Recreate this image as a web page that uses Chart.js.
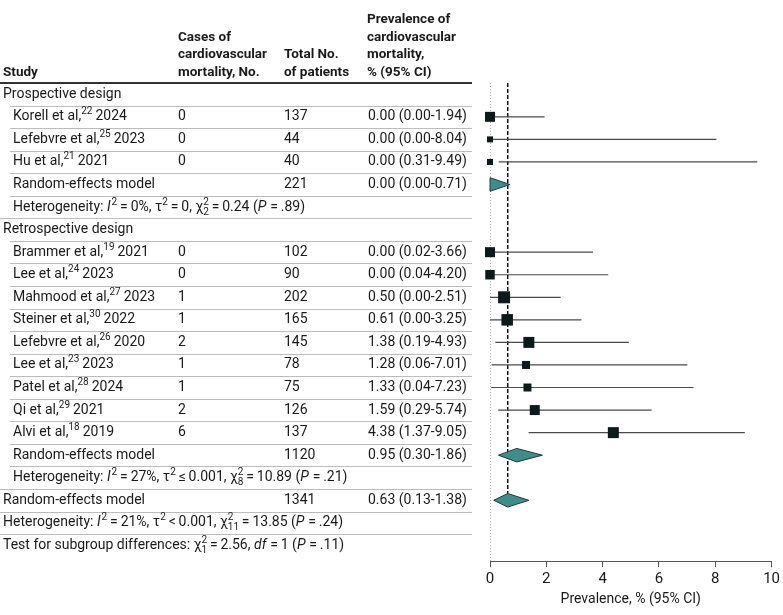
<!DOCTYPE html>
<html lang="en">
<head>
    <meta charset="UTF-8">
    <title>Cardiovascular mortality forest plot</title>
    <style>
        body { margin: 0; background: #FFFFFF; }
        #chart-container { width: 783px; height: 615px; position: relative; }
    </style>
    <script src="https://cdn.jsdelivr.net/npm/chart.js"></script>
</head>
<body>
    <div id="chart-container">
        <canvas id="forestChart"></canvas>
    </div>

    <script>
        // Prospective design studies
        const prosStudy = ["Korell et al,", "Lefebvre et al,", "Hu et al,"];
        const prosRef = ["22", "25", "21"];
        const prosYear = ["2024", "2023", "2021"];
        const prosCases = [0, 0, 0];
        const prosTotal = [137, 44, 40];
        const prosEst = [0.00, 0.00, 0.00];
        const prosLow = [0.00, 0.00, 0.31];
        const prosHigh = [1.94, 8.04, 9.49];

        // Retrospective design studies
        const retroStudy = ["Brammer et al,", "Lee et al,", "Mahmood et al,", "Steiner et al,", "Lefebvre et al,",
                            "Lee et al,", "Patel et al,", "Qi et al,", "Alvi et al,"];
        const retroRef = ["19", "24", "27", "30", "26", "23", "28", "29", "18"];
        const retroYear = ["2021", "2023", "2023", "2022", "2020", "2023", "2024", "2021", "2019"];
        const retroCases = [0, 0, 1, 1, 2, 1, 1, 2, 6];
        const retroTotal = [102, 90, 202, 165, 145, 78, 75, 126, 137];
        const retroEst = [0.00, 0.00, 0.50, 0.61, 1.38, 1.28, 1.33, 1.59, 4.38];
        const retroLow = [0.02, 0.04, 0.00, 0.00, 0.19, 0.06, 0.04, 0.29, 1.37];
        const retroHigh = [3.66, 4.20, 2.51, 3.25, 4.93, 7.01, 7.23, 5.74, 9.05];

        // Pooled estimates: prospective, retrospective, overall
        const pooledTotal = [221, 1120, 1341];
        const pooledEst = [0.00, 0.95, 0.63];
        const pooledLow = [0.00, 0.30, 0.13];
        const pooledHigh = [0.71, 1.86, 1.38];

        const xTicks = [0, 2, 4, 6, 8, 10];

        // Square side in px (study weight)
        const prosBox = [10, 6, 6];
        const retroBox = [10, 9.5, 12, 11.5, 11, 8, 8, 10, 11];

        const FONT = "Roboto, 'Liberation Sans', sans-serif";
        const TEXT = "#1a1a1a";
        const TABLE_RIGHT = 472;

        // Row layout (row index used on the y scale)
        const prosRows = [0, 1, 2];
        const retroRows = [6, 7, 8, 9, 10, 11, 12, 13, 14];
        const pooledRows = [3, 15, 17];
        const overall = pooledEst[2];

        const fmt = (e, l, h) => `${e.toFixed(2)} (${l.toFixed(2)}-${h.toFixed(2)})`;

        // Rich text bits for the heterogeneity lines
        const hetPros = ["Heterogeneity: ", { i: "I" }, { sup: "2" }, "\u2009=\u20090%, \u03c4", { sup: "2" },
                         "\u2009=\u20090, \u03c7", { sup: "2", sub: "2" }, "\u2009=\u20090.24 (", { i: "P" }, "\u2009=\u2009.89)"];
        const hetRetro = ["Heterogeneity: ", { i: "I" }, { sup: "2" }, "\u2009=\u200927%, \u03c4", { sup: "2" },
                          "\u2009\u2264\u20090.001, \u03c7", { sup: "2", sub: "8" }, "\u2009=\u200910.89 (", { i: "P" }, "\u2009=\u2009.21)"];
        const hetAll = ["Heterogeneity: ", { i: "I" }, { sup: "2" }, "\u2009=\u200921%, \u03c4", { sup: "2" },
                        "\u2009<\u20090.001, \u03c7", { sup: "2", sub: "11" }, "\u2009=\u200913.85 (", { i: "P" }, "\u2009=\u2009.24)"];
        const subgroupTest = ["Test for subgroup differences: \u03c7", { sup: "2", sub: "1" }, "\u2009=\u20092.56, ",
                              { i: "df" }, "\u2009=\u20091 (", { i: "P" }, "\u2009=\u2009.11)"];

        function drawRich(ctx, x, y, parts) {
            for (const p of parts) {
                if (typeof p === "string") {
                    ctx.font = `14px ${FONT}`;
                    ctx.fillText(p, x, y);
                    x += ctx.measureText(p).width;
                } else if (p.i) {
                    ctx.font = `italic 14px ${FONT}`;
                    ctx.fillText(p.i, x, y);
                    x += ctx.measureText(p.i).width + 1;
                } else {
                    ctx.font = `10px ${FONT}`;
                    let w = ctx.measureText(p.sup).width;
                    ctx.fillText(p.sup, x, y - 5);
                    if (p.sub) {
                        ctx.fillText(p.sub, x, y + 5);
                        w = Math.max(w, ctx.measureText(p.sub).width);
                    }
                    x += w;
                }
            }
        }

        function drawStudy(ctx, x, y, name, ref, year) {
            ctx.font = `14px ${FONT}`;
            ctx.fillText(name, x, y);
            x += ctx.measureText(name).width;
            ctx.font = `10px ${FONT}`;
            ctx.fillText(ref, x, y - 5);
            x += ctx.measureText(ref).width + 3;
            ctx.font = `14px ${FONT}`;
            ctx.fillText(year, x, y);
        }

        // Draws the table to the left of the plot, rows placed with the chart's y scale
        const tablePlugin = {
            id: "forestTable",
            afterDraw(chart) {
                const ctx = chart.ctx;
                const py = r => chart.scales.y.getPixelForValue(r);
                ctx.save();
                ctx.fillStyle = TEXT;
                ctx.textBaseline = "middle";
                ctx.textAlign = "left";

                // Column headers
                ctx.font = `bold 13.5px ${FONT}`;
                ctx.fillText("Study", 3, 72.5);
                ["Cases of", "cardiovascular", "mortality, No."].forEach((t, k) => ctx.fillText(t, 178, 37.5 + k * 17.5));
                ["Total No.", "of patients"].forEach((t, k) => ctx.fillText(t, 284, 55 + k * 17.5));
                ["Prevalence of", "cardiovascular", "mortality,", "% (95% CI)"].forEach((t, k) => ctx.fillText(t, 367, 20 + k * 17.5));

                // Rules
                ctx.strokeStyle = "#333";
                ctx.lineWidth = 2;
                ctx.beginPath();
                ctx.moveTo(0, chart.chartArea.top);
                ctx.lineTo(TABLE_RIGHT, chart.chartArea.top);
                ctx.stroke();

                const seps = [[-0.5, 10], [0.5, 10], [1.5, 10], [2.5, 10], [3.5, 10], [4.5, 0], [5.5, 10],
                              [6.5, 10], [7.5, 10], [8.5, 10], [9.5, 10], [10.5, 10], [11.5, 10], [12.5, 10],
                              [13.5, 10], [14.5, 10], [15.5, 10], [16.5, 0], [17.5, 0], [18.5, 0]];
                ctx.strokeStyle = "#bcbcbc";
                ctx.lineWidth = 1;
                for (const [r, x0] of seps) {
                    const yy = Math.round(py(r)) + 0.5;
                    ctx.beginPath();
                    ctx.moveTo(x0, yy);
                    ctx.lineTo(TABLE_RIGHT, yy);
                    ctx.stroke();
                }

                // Group headers
                ctx.font = `14px ${FONT}`;
                ctx.fillText("Prospective design", 3, py(-1));
                ctx.fillText("Retrospective design", 3, py(5));

                // Study rows
                prosStudy.forEach((s, k) => {
                    const y = py(prosRows[k]);
                    drawStudy(ctx, 13, y, s, prosRef[k], prosYear[k]);
                    ctx.font = `14px ${FONT}`;
                    ctx.fillText(String(prosCases[k]), 178, y);
                    ctx.fillText(String(prosTotal[k]), 284, y);
                    ctx.fillText(fmt(prosEst[k], prosLow[k], prosHigh[k]), 368, y);
                });
                retroStudy.forEach((s, k) => {
                    const y = py(retroRows[k]);
                    drawStudy(ctx, 13, y, s, retroRef[k], retroYear[k]);
                    ctx.font = `14px ${FONT}`;
                    ctx.fillText(String(retroCases[k]), 178, y);
                    ctx.fillText(String(retroTotal[k]), 284, y);
                    ctx.fillText(fmt(retroEst[k], retroLow[k], retroHigh[k]), 368, y);
                });

                // Pooled rows
                pooledRows.forEach((r, k) => {
                    const y = py(r);
                    ctx.font = `14px ${FONT}`;
                    ctx.fillText("Random-effects model", k === 2 ? 3 : 13, y);
                    ctx.fillText(String(pooledTotal[k]), 284, y);
                    ctx.fillText(fmt(pooledEst[k], pooledLow[k], pooledHigh[k]), 368, y);
                });

                drawRich(ctx, 13, py(4), hetPros);
                drawRich(ctx, 13, py(16), hetRetro);
                drawRich(ctx, 3, py(18), hetAll);
                drawRich(ctx, 3, py(19), subgroupTest);
                ctx.restore();
            }
        };

        function buildDatasets() {
            const datasets = [];
            const est = prosEst.concat(retroEst);
            const low = prosLow.concat(retroLow);
            const high = prosHigh.concat(retroHigh);
            const rows = prosRows.concat(retroRows);
            const boxes = prosBox.concat(retroBox);

            // Squares on top
            datasets.push({
                label: "studies",
                order: 0,
                showLine: false,
                data: est.map((e, k) => ({ x: e, y: rows[k] })),
                pointStyle: "rect",
                pointRadius: boxes.map(b => b / Math.SQRT2),
                backgroundColor: "#0c1a1b",
                borderWidth: 0,
                clip: false
            });

            // Confidence intervals
            est.forEach((e, k) => {
                datasets.push({
                    label: "ci" + k,
                    order: 1,
                    data: [{ x: low[k], y: rows[k] }, { x: high[k], y: rows[k] }],
                    borderColor: "#4a4a4a",
                    borderWidth: 1.2,
                    pointRadius: 0,
                    clip: false
                });
            });

            // Pooled diamonds
            pooledEst.forEach((e, k) => {
                const r = pooledRows[k];
                const h = 0.3;
                datasets.push({
                    label: "pooled" + k,
                    order: 1,
                    data: [{ x: pooledLow[k], y: r }, { x: e, y: r - h }, { x: pooledHigh[k], y: r },
                           { x: e, y: r + h }, { x: pooledLow[k], y: r }],
                    borderColor: "#1e3b3b",
                    borderWidth: 1,
                    backgroundColor: "#3f8c8b",
                    fill: "shape",
                    pointRadius: 0,
                    tension: 0,
                    clip: false
                });
            });

            // Overall estimate (dashed) and null line (dotted)
            datasets.push({
                label: "overall",
                order: 2,
                data: [{ x: overall, y: -1.5 }, { x: overall, y: pooledRows[2] }],
                borderColor: "#111",
                borderWidth: 1.5,
                borderDash: [4, 2],
                pointRadius: 0
            });
            datasets.push({
                label: "null",
                order: 3,
                data: [{ x: 0, y: -1.5 }, { x: 0, y: 19.7 }],
                borderColor: "#666",
                borderWidth: 1,
                borderDash: [1, 2],
                pointRadius: 0
            });
            return datasets;
        }

        new Chart(document.getElementById("forestChart"), {
            type: "line",
            data: { datasets: buildDatasets() },
            plugins: [tablePlugin],
            options: {
                responsive: true,
                maintainAspectRatio: false,
                animation: false,
                layout: { padding: { left: 490, right: 9, top: 83, bottom: 7 } },
                plugins: {
                    legend: { display: false },
                    tooltip: { enabled: false }
                },
                scales: {
                    x: {
                        type: "linear",
                        min: 0,
                        max: 10,
                        afterBuildTicks: axis => { axis.ticks = xTicks.map(v => ({ value: v })); },
                        grid: { drawOnChartArea: false, drawTicks: true, tickLength: 6, color: "#555" },
                        border: { display: true, color: "#555", width: 1 },
                        ticks: { color: TEXT, padding: 3, font: { family: FONT, size: 15 } },
                        title: {
                            display: true,
                            text: "Prevalence, % (95% CI)",
                            color: TEXT,
                            padding: { top: 0, bottom: 0 },
                            font: { family: FONT, size: 14 }
                        }
                    },
                    y: {
                        type: "linear",
                        display: false,
                        reverse: true,
                        min: -1.5,
                        max: 19.7
                    }
                }
            }
        });
    </script>
</body>
</html>
